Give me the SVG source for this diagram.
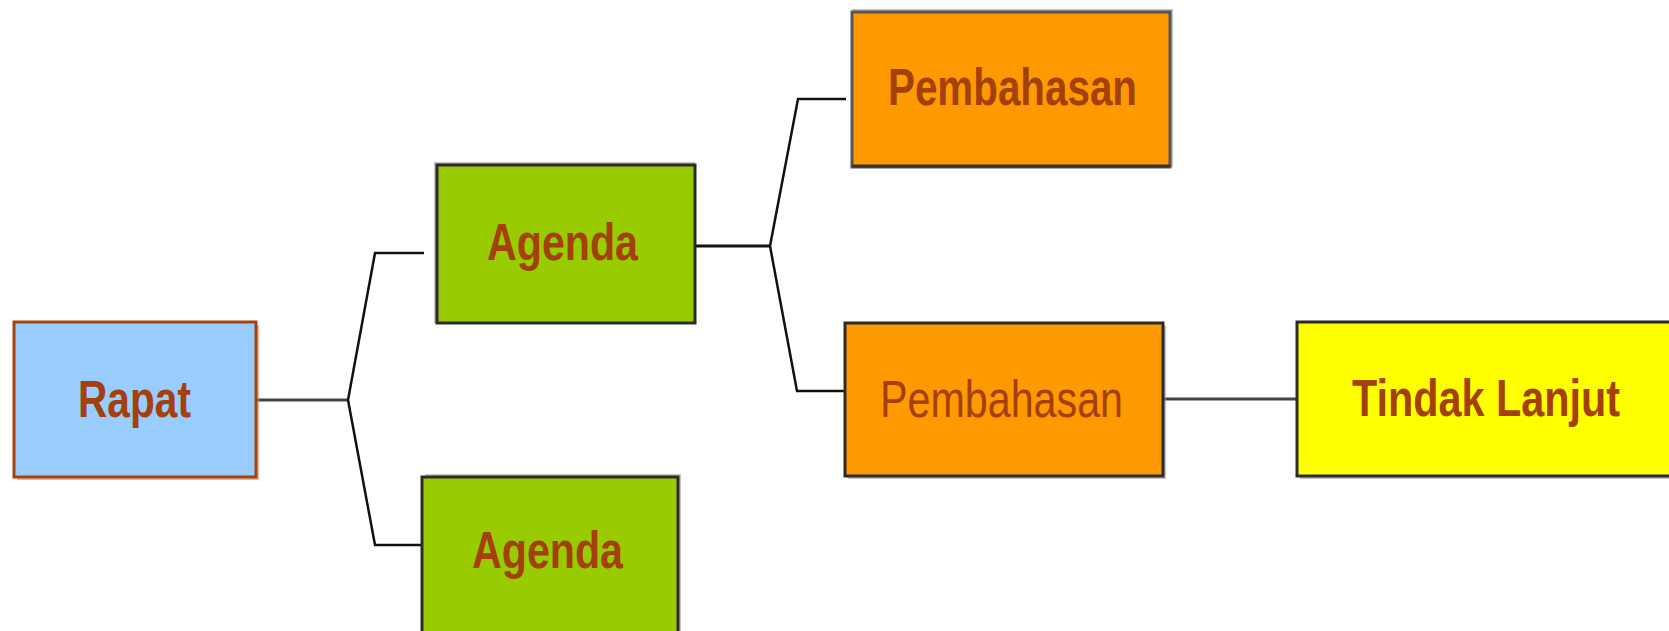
<svg xmlns="http://www.w3.org/2000/svg" width="1669" height="631" viewBox="0 0 1669 631">
<style>
.box{stroke:#2a2a2a;stroke-width:3}
.shadow{fill:#9a9a9a;opacity:0.6}
.lbl{font-family:"Liberation Sans",Arial,sans-serif;font-weight:bold;font-size:52px;fill:#a3400c;text-anchor:start}
.thin{font-weight:normal}
.con{fill:none;stroke:#111;stroke-width:3.2;stroke-linejoin:miter}
.diag{stroke-width:2.5}
</style>
<rect width="1669" height="631" fill="#ffffff"/>
<g id="connectors">
<path class="con" style="stroke:#444" d="M256 400 H348"/>
<path class="con diag" d="M348 400 L375 253 H424"/>
<path class="con diag" d="M348 400 L375 545 H422"/>
<path class="con" d="M695 246 H770"/>
<path class="con diag" d="M770 246 L798 99 H846"/>
<path class="con diag" d="M770 246 L797 391 H845"/>
<path class="con" style="stroke:#444" d="M1163 399 H1297"/>
</g>
<g id="rapat">
<rect class="shadow" x="17" y="325" width="242" height="155" style="fill:#c98a6a"/>
<rect x="14" y="322" width="242" height="155" fill="#99ccff" stroke="#a6420e" stroke-width="3"/>
<text class="lbl" x="78" y="417" textLength="113" lengthAdjust="spacingAndGlyphs">Rapat</text>
</g>
<g id="agenda1">
<rect class="shadow" x="434" y="162" width="261" height="161"/>
<rect class="box" x="437" y="165" width="258" height="158" fill="#99cc00"/>
<text class="lbl" x="487" y="260" textLength="151" lengthAdjust="spacingAndGlyphs">Agenda</text>
</g>
<g id="agenda2">
<rect class="shadow" x="425" y="474" width="256" height="170"/>
<rect class="box" x="422" y="477" width="256" height="170" fill="#99cc00"/>
<text class="lbl" x="472" y="568" textLength="151" lengthAdjust="spacingAndGlyphs">Agenda</text>
</g>
<g id="pembahasan1">
<rect class="shadow" x="852" y="9" width="321" height="158"/>
<rect class="box" x="852" y="12" width="318" height="155" fill="#ff9900" style="stroke:#555"/>
<line x1="852" y1="166" x2="1170" y2="166" stroke="#333" stroke-width="3"/>
<text class="lbl" x="888" y="105" textLength="249" lengthAdjust="spacingAndGlyphs">Pembahasan</text>
</g>
<g id="pembahasan2">
<rect class="shadow" x="848" y="326" width="318" height="153"/>
<rect class="box" x="845" y="323" width="318" height="153" fill="#ff9900"/>
<text class="lbl thin" x="880" y="417" textLength="243" lengthAdjust="spacingAndGlyphs">Pembahasan</text>
</g>
<g id="tindaklanjut">
<rect class="shadow" x="1300" y="325" width="372" height="154"/>
<rect class="box" x="1297" y="322" width="374" height="154" fill="#ffff00"/>
<text class="lbl" x="1352" y="416" textLength="268" lengthAdjust="spacingAndGlyphs">Tindak Lanjut</text>
</g>
</svg>
